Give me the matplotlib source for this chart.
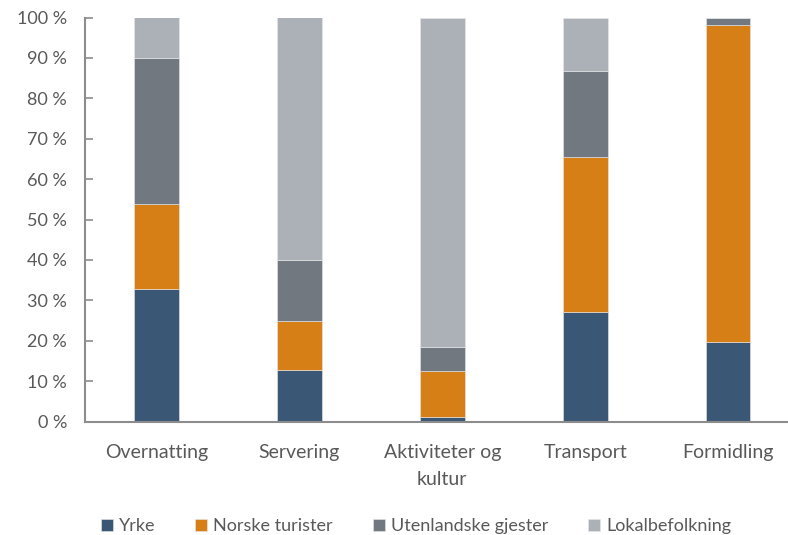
import matplotlib
matplotlib.use('Agg')
import matplotlib.pyplot as plt
import numpy as np

plt.rcParams['font.family'] = ['Lato', 'DejaVu Sans']

categories = ['Overnatting', 'Servering', 'Aktiviteter og\nkultur', 'Transport', 'Formidling']
series_names = ['Yrke', 'Norske turister', 'Utenlandske gjester', 'Lokalbefolkning']

# shares in percent
yrke = [32.9, 12.8, 1.1, 27.2, 19.7]
norske = [21.0, 12.0, 11.5, 38.3, 78.5]
utenlandske = [36.1, 15.1, 5.9, 21.3, 1.8]
lokal = [10.0, 60.1, 81.5, 13.2, 0.0]

colors = ['#3a5775', '#d77f17', '#717880', '#abb1b7']
yticks = [0, 10, 20, 30, 40, 50, 60, 70, 80, 90, 100]
ylabels = ['%d %%' % t for t in yticks]

text_color = '#595959'
axis_color = '#8c8c8c'

fig = plt.figure(figsize=(7.88, 5.35), dpi=100)
ax = fig.add_axes([85 / 788, 113.5 / 535, 703 / 788, 404 / 535])

x = np.arange(len(categories))
bottom = np.zeros(len(categories))
handles = []
for name, vals, c in zip(series_names, [yrke, norske, utenlandske, lokal], colors):
    b = ax.bar(x, vals, 0.313, bottom=bottom, color=c, label=name,
               edgecolor='#e6e8ea', linewidth=0.4)
    handles.append(b)
    bottom += np.array(vals)

ax.set_xlim(-0.5, -0.5 + 703 / 142.9)
ax.set_ylim(0, 100)
ax.set_yticks(yticks)
ax.set_yticklabels(ylabels)
ax.set_xticks(x)
ax.set_xticklabels(categories, linespacing=1.7)

for side in ['top', 'right']:
    ax.spines[side].set_visible(False)
for side in ['left', 'bottom']:
    ax.spines[side].set_color(axis_color)
    ax.spines[side].set_linewidth(1.5)

ax.tick_params(axis='y', direction='in', length=6, width=1.2, color=axis_color,
               labelsize=13, labelcolor=text_color, pad=13)
ax.tick_params(axis='x', length=0, labelsize=14, labelcolor=text_color, pad=16)

fig.legend(handles=handles, labels=series_names, loc='center', ncol=4,
           bbox_to_anchor=(0.528, 0.017), frameon=False, fontsize=13,
           handlelength=0.65, handleheight=0.65, handletextpad=0.35,
           columnspacing=2.2, labelcolor=text_color)

fig.savefig('out.png', dpi=100)
